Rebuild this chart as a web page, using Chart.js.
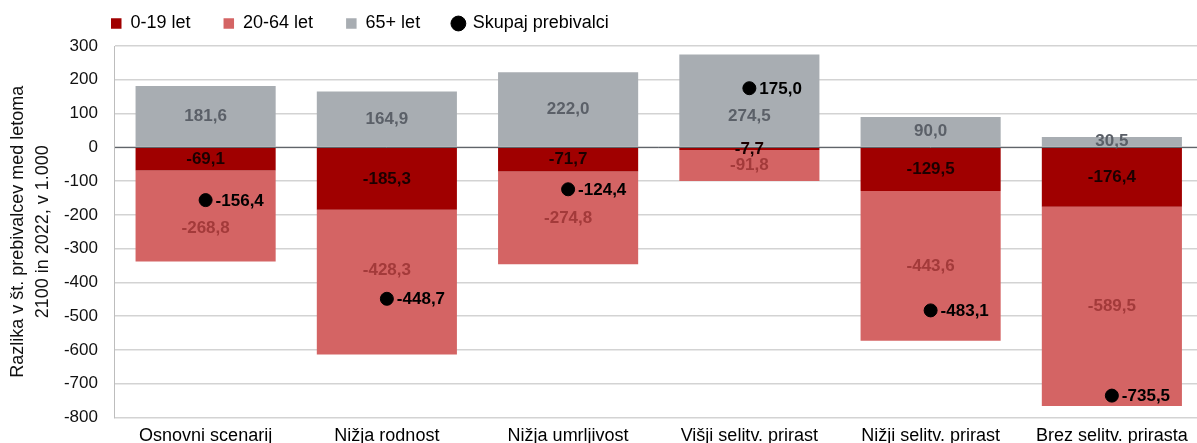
<!DOCTYPE html>
<html>
<head>
<meta charset="utf-8">
<script src="https://cdn.jsdelivr.net/npm/chart.js@4"></script>
<style>
  html, body { margin: 0; padding: 0; overflow: hidden; background: #fff; }
  #wrap { position: relative; width: 1210px; height: 455px; }
</style>
</head>
<body>
<div id="wrap"><canvas id="myChart"></canvas></div>
<script>
const scenarios = ['Osnovni scenarij', 'Nižja rodnost', 'Nižja umrljivost', 'Višji selitv. prirast', 'Nižji selitv. prirast', 'Brez selitv. prirasta'];
const age0to19 = [-69.1, -185.3, -71.7, -7.7, -129.5, -176.4];
const age20to64 = [-268.8, -428.3, -274.8, -91.8, -443.6, -589.5];
const age65plus = [181.6, 164.9, 222.0, 274.5, 90.0, 30.5];
const totalPop = [-156.4, -448.7, -124.4, 175.0, -483.1, -735.5];
const yMin = -800;
const yMax = 300;
const yStep = 100;

const FONT = '"Liberation Sans", Arial, sans-serif';
Chart.defaults.font.family = FONT;

const fmt = v => v.toFixed(1).replace('.', ',');

// data labels + zero line on top of the bars
const valueLabels = {
  id: 'valueLabels',
  afterDatasetsDraw(chart) {
    const ctx = chart.ctx;
    const area = chart.chartArea;
    const y0 = chart.scales.y.getPixelForValue(0);
    ctx.save();
    ctx.strokeStyle = '#40464d';
    ctx.lineWidth = 1;
    ctx.beginPath();
    ctx.moveTo(area.left, y0);
    ctx.lineTo(area.right, y0);
    ctx.stroke();

    const totalMeta = chart.getDatasetMeta(3);
    ctx.font = 'bold 17px ' + FONT;
    ctx.textAlign = 'center';
    ctx.textBaseline = 'middle';
    [0, 1, 2].forEach(di => {
      const ds = chart.data.datasets[di];
      chart.getDatasetMeta(di).data.forEach((bar, i) => {
        let y = (bar.y + bar.base) / 2;
        if (di > 0) {
          // keep the label clear of the total marker
          const py = totalMeta.data[i].y;
          if (Math.abs(y - py) < 28) y = y >= py ? py + 28 : py - 28;
        }
        ctx.fillStyle = ds.labelColor;
        ctx.fillText(fmt(ds.data[i]), bar.x, y);
      });
    });

    ctx.textAlign = 'left';
    ctx.fillStyle = '#000';
    totalMeta.data.forEach((pt, i) => {
      ctx.fillText(fmt(totalPop[i]), pt.x + 10, pt.y + 1);
    });
    ctx.restore();
  }
};

// legend sits at the top left, not centred
const legendPlace = {
  id: 'legendPlace',
  afterLayout(chart) {
    const lg = chart.legend;
    const dx = 78 - lg.left;
    const dy = -18.5 - lg.top;
    lg.left += dx; lg.right += dx;
    lg.top += dy; lg.bottom += dy;
  }
};

const ctx = document.getElementById('myChart');

new Chart(ctx, {
  type: 'bar',
  data: {
    labels: scenarios,
    datasets: [{
      label: '0-19 let',
      data: age0to19,
      backgroundColor: '#a00000',
      labelColor: '#1c0000',
      pointStyle: 'rect',
      order: 1,
    }, {
      label: '20-64 let',
      data: age20to64,
      backgroundColor: '#d46464',
      labelColor: '#a33a3a',
      pointStyle: 'rect',
      order: 1,
    }, {
      label: '65+ let',
      data: age65plus,
      backgroundColor: '#a8adb2',
      labelColor: '#5b6068',
      pointStyle: 'rect',
      order: 1,
    }, {
      type: 'line',
      label: 'Skupaj prebivalci',
      data: totalPop,
      stack: 'total',
      showLine: false,
      pointStyle: 'circle',
      pointRadius: 6.5,
      pointBackgroundColor: '#000',
      pointBorderColor: '#000',
      backgroundColor: '#000',
      borderColor: '#000',
      order: 0,
    }]
  },
  options: {
    responsive: true,
    maintainAspectRatio: false,
    animation: false,
    barPercentage: 0.773,
    categoryPercentage: 1,
    layout: {
      padding: { top: -15, left: 6, right: 1, bottom: 0 }
    },
    scales: {
      x: {
        stacked: true,
        grid: { display: false, drawTicks: false },
        border: { display: false },
        ticks: {
          color: '#000',
          font: { size: 18 },
          padding: 8,
          maxRotation: 0,
          autoSkip: false,
        },
      },
      y: {
        stacked: true,
        min: yMin,
        max: yMax,
        grid: {
          color: '#d3d3d3',
          lineWidth: 1.5,
          drawTicks: true,
          tickLength: 8,
          tickColor: 'rgba(0,0,0,0)',
        },
        border: { color: '#bdbdbd', width: 1 },
        ticks: {
          stepSize: yStep,
          color: '#111',
          font: { size: 17 },
          padding: 9,
        },
        title: {
          display: true,
          text: ['Razlika v št. prebivalcev med letoma', '2100 in 2022, v 1.000'],
          color: '#111',
          font: { size: 18, lineHeight: 1.36 },
          padding: 0,
        },
      },
    },
    plugins: {
      legend: {
        display: true,
        position: 'top',
        align: 'start',
        labels: {
          color: '#000',
          font: { size: 18, lineHeight: 1 },
          usePointStyle: true,
          boxWidth: 10.5,
          boxHeight: 10.5,
          padding: 33,
          sort: (a, b) => a.datasetIndex - b.datasetIndex,
        }
      },
      tooltip: { enabled: false },
    },
  },
  plugins: [valueLabels, legendPlace],
});
</script>
</body>
</html>
